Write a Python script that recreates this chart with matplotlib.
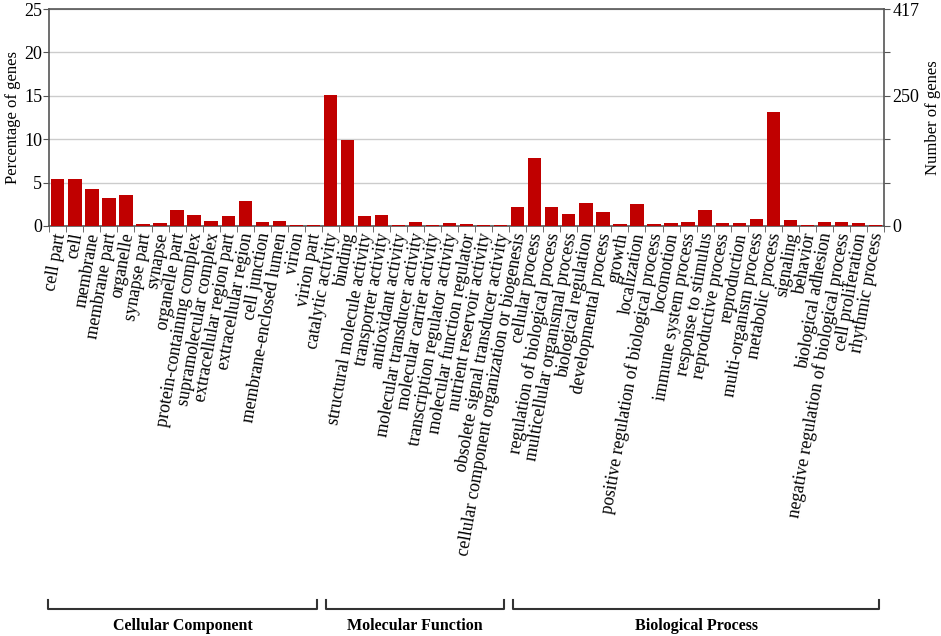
import matplotlib
matplotlib.use('Agg')
import matplotlib.pyplot as plt
import matplotlib.transforms as mtransforms
import numpy as np

plt.rcParams['font.family'] = ['Liberation Serif', 'DejaVu Serif']

# GO terms, grouped by ontology
cc_terms = ['cell part', 'cell', 'membrane', 'membrane part', 'organelle',
            'synapse part', 'synapse', 'organelle part', 'protein-containing complex',
            'supramolecular complex', 'extracellular region part', 'extracellular region',
            'cell junction', 'membrane-enclosed lumen', 'virion', 'virion part']
cc_pct = [5.41, 5.41, 4.22, 3.23, 3.53, 0.23, 0.35, 1.80, 1.31, 0.54, 1.11, 2.92,
          0.42, 0.54, 0.12, 0.12]

mf_terms = ['catalytic activity', 'binding', 'structural molecule activity',
            'transporter activity', 'antioxidant activity', 'molecular transducer activity',
            'molecular carrier activity', 'transcription regulator activity',
            'molecular function regulator', 'nutrient reservoir activity',
            'obsolete signal transducer activity']
mf_pct = [15.09, 9.95, 1.11, 1.31, 0.12, 0.42, 0.12, 0.35, 0.23, 0.08, 0.08]

bp_terms = ['cellular component organization or biogenesis', 'cellular process',
            'regulation of biological process', 'multicellular organismal process',
            'biological regulation', 'developmental process', 'growth', 'localization',
            'positive regulation of biological process', 'locomotion',
            'immune system process', 'response to stimulus', 'reproductive process',
            'reproduction', 'multi-organism process', 'metabolic process', 'signaling',
            'behavior', 'biological adhesion', 'negative regulation of biological process',
            'cell proliferation', 'rhythmic process']
bp_pct = [2.15, 7.83, 2.23, 1.34, 2.65, 1.57, 0.19, 2.53, 0.19, 0.35, 0.46, 1.80,
          0.35, 0.35, 0.81, 13.10, 0.69, 0.08, 0.42, 0.42, 0.31, 0.08]

group_names = ['Cellular Component', 'Molecular Function', 'Biological Process']
pct_ticks = [0, 5, 10, 15, 20, 25]
count_max = 417          # genes at 25 %
count_labels = ['0', '', '', '250', '', '417']

terms = cc_terms + mf_terms + bp_terms
pct = cc_pct + mf_pct + bp_pct
group_sizes = [len(cc_terms), len(mf_terms), len(bp_terms)]

fig = plt.figure(figsize=(9.41, 6.36), dpi=100)
ax = fig.add_axes([0.0524, 0.6447, 0.887, 0.3411])

x = np.arange(len(terms))
ax.bar(x, pct, width=0.78, color='#c00000', zorder=3)

ax.set_xlim(-0.5, len(terms) - 0.5)
ax.set_ylim(0, pct_ticks[-1])
ax.set_yticks(pct_ticks)
ax.yaxis.grid(True, color='#cccccc', linewidth=1, zorder=0)
ax.set_ylabel('Percentage of genes', fontsize=12, labelpad=2)
ax.tick_params(axis='y', labelsize=13, length=4, color='#555555', pad=1)

ax.set_xticks(x + 0.15)
ax.set_xticklabels(terms, rotation=80, ha='right', va='center',
                   rotation_mode='anchor', fontsize=12.8)
ax.tick_params(axis='x', length=0, pad=5)
ax.set_xticks(np.arange(-0.5, len(terms), 1.0), minor=True)
ax.tick_params(axis='x', which='minor', length=4, color='#555555')

for side in ['left', 'right', 'top', 'bottom']:
    ax.spines[side].set_color('#555555')
    ax.spines[side].set_linewidth(1.2)

# right axis: number of genes
ax2 = ax.twinx()
ax2.set_ylim(0, count_max)
ax2.set_yticks(np.linspace(0, count_max, len(pct_ticks)))
ax2.set_yticklabels(count_labels)
ax2.tick_params(axis='y', labelsize=13, length=4, color='#555555', pad=2)
ax2.set_ylabel('Number of genes', fontsize=12, labelpad=4)
for side in ['left', 'right', 'top', 'bottom']:
    ax2.spines[side].set_visible(False)

# group brackets under the labels
trans = mtransforms.blended_transform_factory(ax.transData, fig.transFigure)
y_top = 1 - 600 / 636
y_bot = 1 - 609 / 636
y_txt = 1 - 626 / 636
start = 0
for i, (name, n) in enumerate(zip(group_names, group_sizes)):
    x0 = start - (0.57 if i == 0 else 0.27)
    x1 = start + n - 1 + 0.2
    ax.plot([x0, x0, x1, x1], [y_top, y_bot, y_bot, y_top], color='#333333',
            linewidth=1.5, transform=trans, clip_on=False)
    ax.text((x0 + x1) / 2, y_txt, name, transform=trans, ha='center', va='center',
            fontsize=11.5, fontweight='bold')
    start += n

fig.savefig('out.png', dpi=100)
